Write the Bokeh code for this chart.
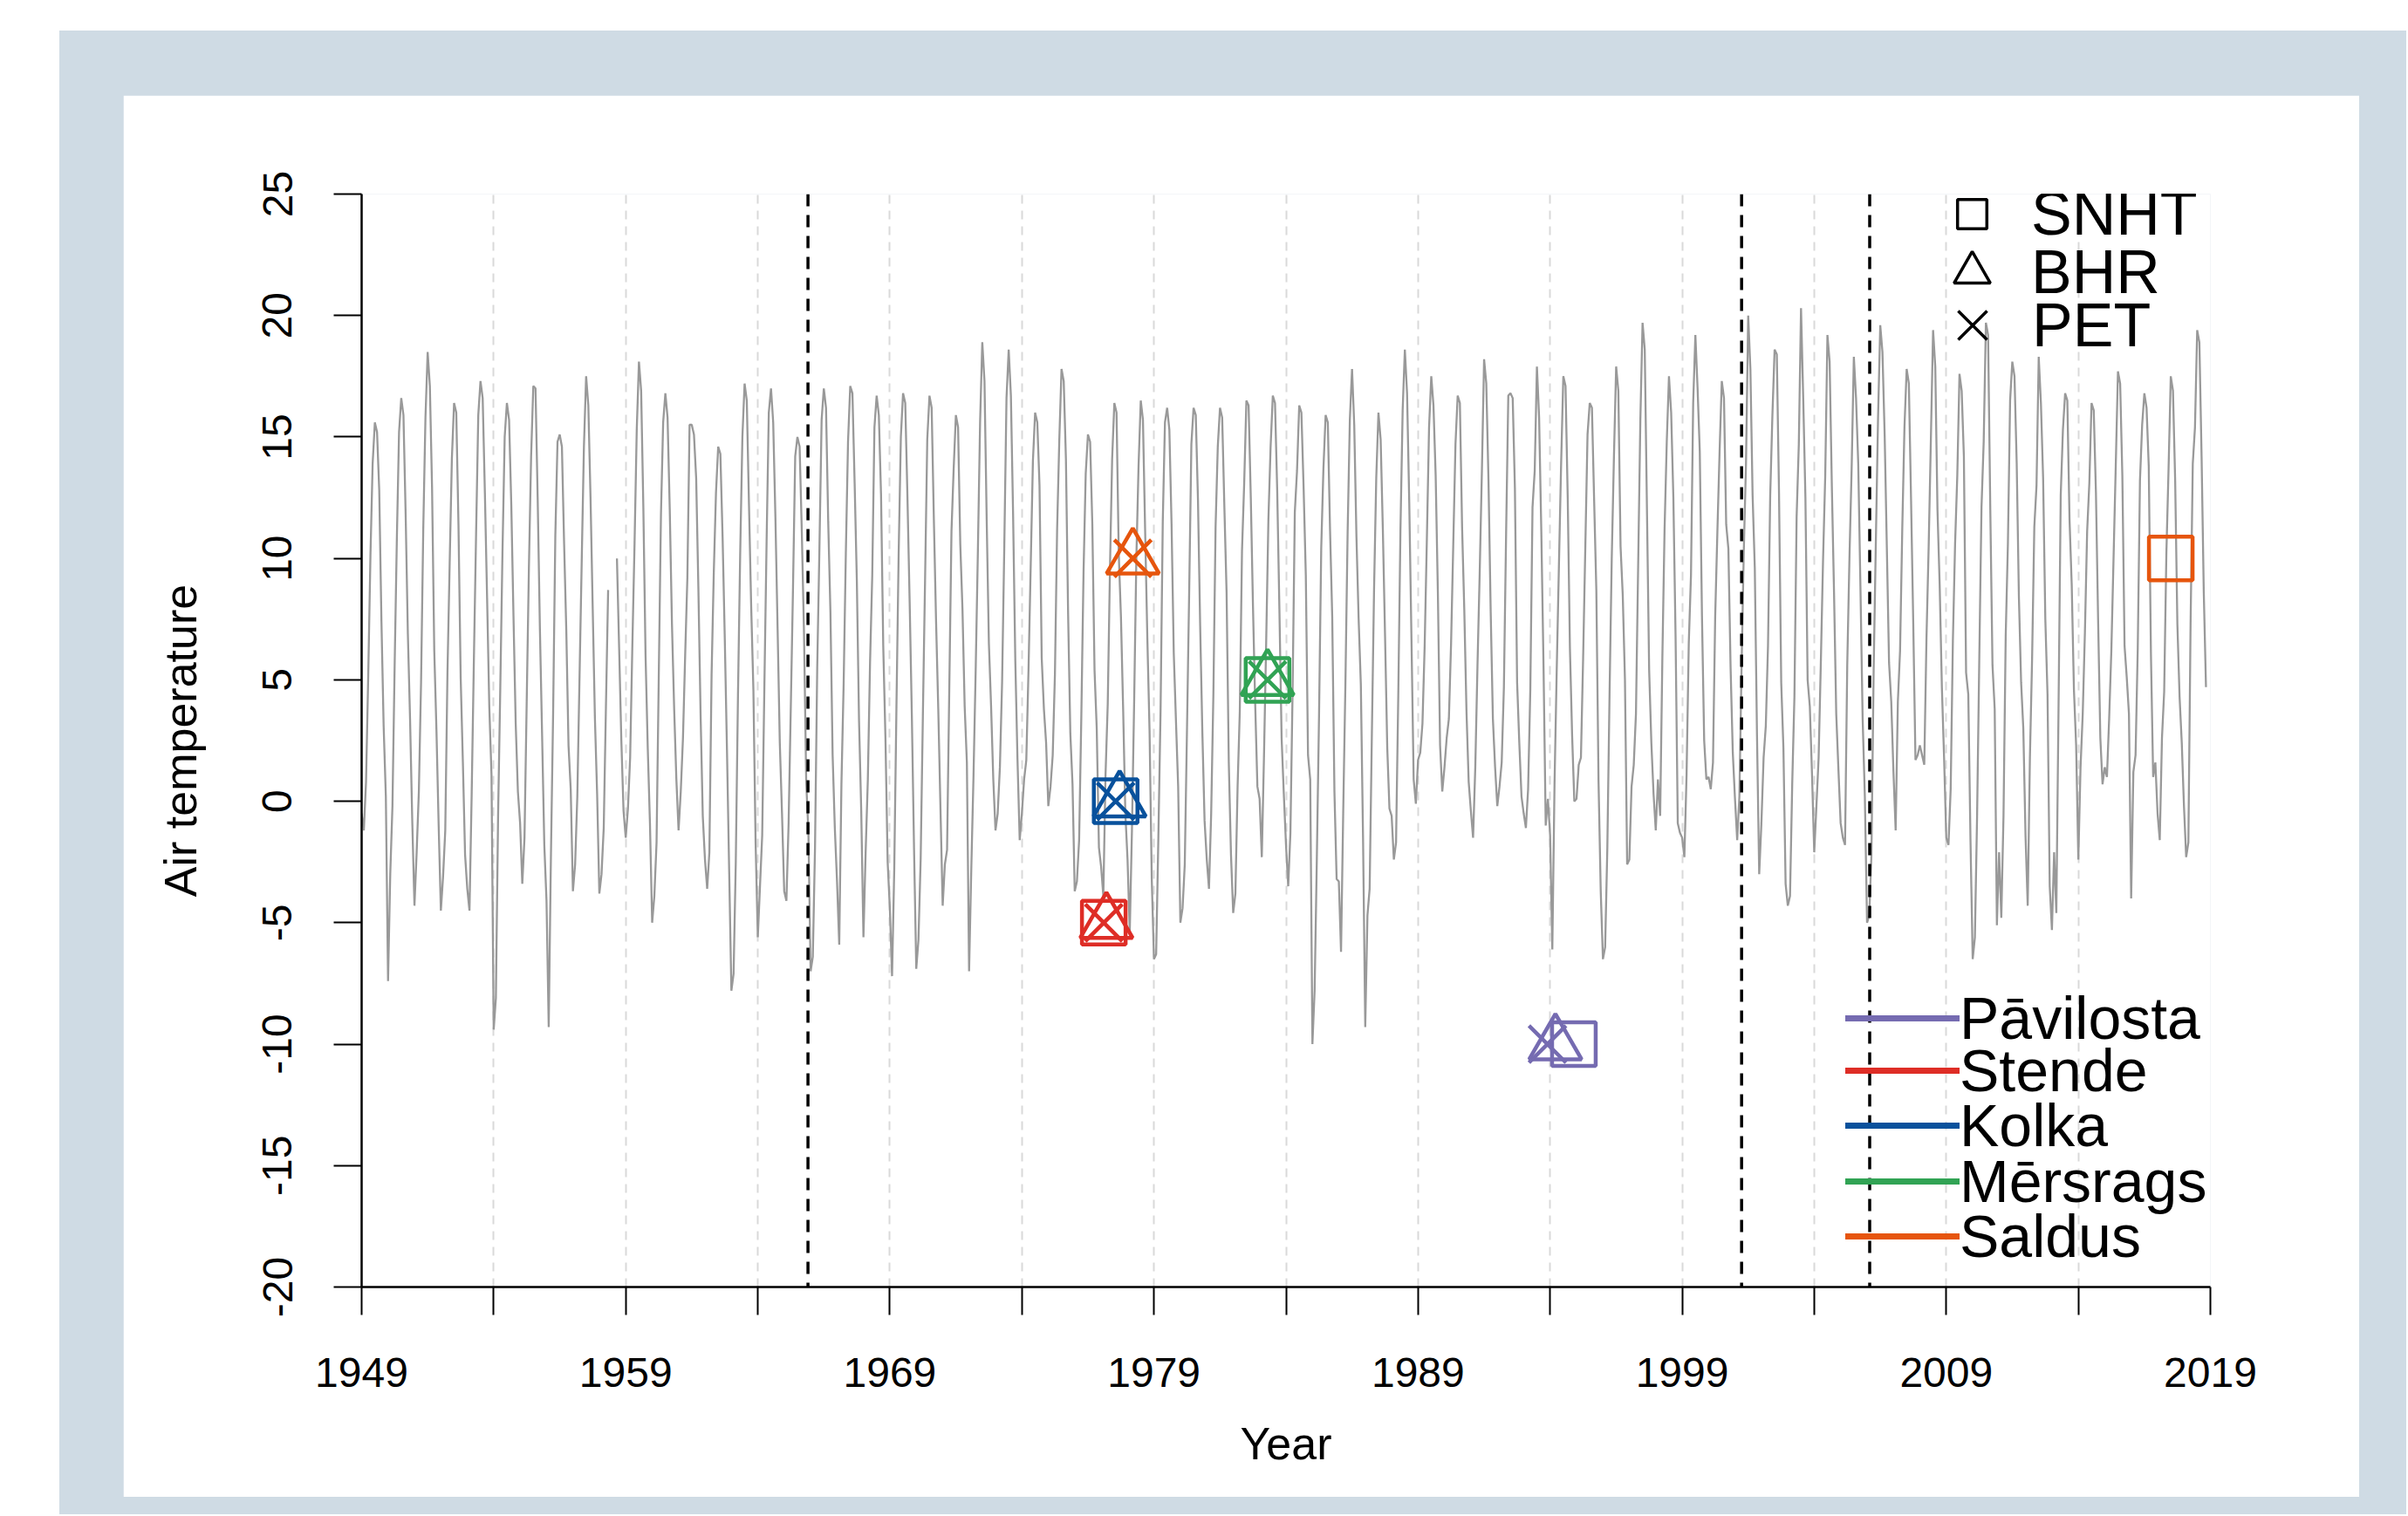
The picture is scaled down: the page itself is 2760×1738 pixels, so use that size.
import math
from bokeh.plotting import figure
from bokeh.models import ColumnDataSource, FixedTicker, Legend, LegendItem, Range1d, Span
from bokeh.layouts import column
from bokeh.embed import file_html
from bokeh.resources import INLINE

nan = float("nan")

# ---------------- data (monthly air temperature) ----------------
start_year = 1949

temp_1949_1958 = [
    -0.5, -1.2, 0.8, 5.2, 10.1, 13.9, 15.6, 15.2, 12.8, 7.4, 3.1, 0.2,
    -7.4, -3.0, -0.2, 5.6, 10.8, 15.2, 16.6, 15.9, 11.8, 6.9, 3.4, -0.8,
    -4.3, -2.1, 0.4, 4.9, 11.2, 15.8, 18.5, 17.1, 12.9, 6.2, 2.9, -1.0,
    -4.5, -3.1, -1.2, 5.3, 9.8, 14.1, 16.4, 16.0, 11.4, 5.1, 1.6, -2.2,
    -3.6, -4.5, 0.3, 5.8, 11.0, 15.9, 17.3, 16.6, 12.7, 8.4, 3.9, 1.1,
    -9.4, -8.1, -0.6, 4.7, 10.3, 15.0, 16.4, 15.7, 12.2, 7.6, 3.2, 0.4,
    -0.9, -3.4, -1.5, 4.1, 9.6, 14.2, 17.1, 17.0, 12.4, 7.1, 2.7, -1.8,
    -4.1, -9.3, -2.3, 3.6, 10.9, 14.8, 15.1, 14.6, 10.6, 7.0, 2.3, 0.5,
    -3.7, -2.6, 0.2, 5.1, 9.9, 14.6, 17.5, 16.3, 12.5, 7.9, 3.4, 0.3,
    -3.8, -3.0, -1.1, 3.9, 8.7, nan, nan, nan, 10.0, 6.3, 2.5, -0.4,
]
temp_1959_1968 = [
    -1.5, -0.3, 1.8, 6.4, 10.6, 15.3, 18.1, 16.9, 12.1, 6.0, 2.2, -0.9,
    -5.0, -3.9, -1.7, 5.1, 11.8, 15.6, 16.8, 15.8, 12.0, 7.3, 3.8, 0.9,
    -1.2, 0.4, 2.6, 6.0, 9.2, 15.5, 15.5, 15.1, 13.3, 8.8, 3.6, -0.6,
    -2.4, -3.6, -2.1, 5.2, 9.4, 12.7, 14.6, 14.3, 10.9, 6.7, 2.1, -2.9,
    -7.8, -7.1, -2.5, 4.4, 10.2, 15.0, 17.2, 16.5, 12.2, 8.0, 4.6, -1.7,
    -5.6, -3.5, -1.4, 4.8, 10.7, 16.0, 17.0, 15.6, 11.7, 7.1, 2.4, -0.5,
    -3.7, -4.1, -0.9, 3.9, 8.8, 14.2, 15.0, 14.6, 11.1, 6.9, 0.8, -1.3,
    -7.0, -6.4, -1.9, 5.5, 10.4, 15.7, 17.0, 16.2, 11.5, 7.8, 1.9, -1.1,
    -3.3, -5.9, 0.7, 4.8, 10.2, 14.8, 17.1, 16.8, 13.1, 9.1, 3.3, -0.4,
    -5.6, -2.1, 0.9, 5.7, 9.3, 15.4, 16.7, 15.9, 12.6, 6.4, 2.6, -2.5,
]
temp_1969_1978 = [
    -4.4, -7.2, -2.8, 3.9, 10.2, 15.0, 16.8, 16.4, 12.5, 8.2, 3.5, -2.0,
    -6.9, -5.7, -2.4, 3.5, 9.1, 14.9, 16.7, 16.2, 11.6, 7.4, 3.8, -0.3,
    -4.3, -2.6, -2.0, 4.6, 11.1, 13.7, 15.9, 15.4, 10.6, 7.9, 3.9, 1.6,
    -7.0, -2.8, 1.0, 5.4, 10.3, 15.6, 18.9, 17.3, 11.6, 6.5, 3.9, 0.9,
    -1.2, -0.5, 1.4, 4.9, 10.5, 16.6, 18.6, 16.7, 11.8, 5.8, 1.7, -1.6,
    -0.5, 0.9, 1.7, 5.4, 9.7, 14.0, 16.0, 15.6, 13.0, 5.9, 3.8, 2.4,
    -0.2, 0.6, 1.9, 5.2, 11.2, 14.9, 17.8, 17.3, 14.1, 7.7, 2.8, 0.7,
    -3.7, -3.3, -1.6, 3.5, 9.4, 13.5, 15.1, 14.8, 11.4, 5.4, 3.0, -1.9,
    -2.7, -3.9, 1.1, 4.0, 9.5, 14.1, 16.4, 16.0, 10.2, 7.6, 3.8, -0.5,
    -2.4, -5.4, -1.2, 4.1, 10.0, 13.8, 16.5, 15.7, 11.1, 6.7, 2.9, -3.2,
]
temp_1979_1988 = [
    -6.5, -6.3, -1.5, 3.7, 11.5, 15.6, 16.2, 15.3, 11.4, 6.1, 3.3, 0.6,
    -5.0, -4.4, -2.6, 2.9, 8.6, 14.7, 16.2, 15.9, 12.4, 7.2, 2.8, -0.8,
    -2.4, -3.6, -0.5, 4.4, 11.3, 14.6, 16.2, 15.8, 12.1, 8.6, 1.6, -2.2,
    -4.6, -3.8, 0.6, 3.7, 10.3, 13.1, 16.5, 16.3, 12.5, 8.0, 4.0, 0.6,
    0.1, -2.3, 1.9, 6.6, 11.6, 14.6, 16.7, 16.4, 12.8, 7.9, 2.6, 0.3,
    -1.8, -3.5, -1.3, 4.6, 11.9, 13.6, 16.3, 16.0, 12.9, 9.3, 1.9, 0.9,
    -10.0, -7.8, -2.4, 3.5, 10.4, 13.7, 15.9, 15.6, 11.2, 7.6, 0.4, -3.2,
    -3.3, -6.2, -0.4, 4.9, 11.1, 15.7, 17.8, 15.5, 10.9, 7.5, 4.8, -1.5,
    -9.3, -4.7, -3.6, 2.7, 8.7, 13.3, 16.0, 14.9, 11.2, 6.8, 2.2, -0.3,
    -0.6, -2.4, -1.7, 4.3, 11.2, 16.1, 18.6, 16.8, 12.3, 6.7, 0.9, -0.1,
]
temp_1989_1998 = [
    1.7, 2.0, 3.2, 6.4, 10.8, 15.4, 17.5, 16.3, 13.4, 8.6, 2.3, 0.4,
    1.4, 2.6, 3.4, 6.5, 10.6, 14.7, 16.7, 16.4, 11.3, 7.9, 3.7, 0.8,
    -0.4, -1.5, 1.4, 5.6, 9.4, 13.6, 18.2, 17.2, 13.2, 7.8, 3.4, 1.4,
    -0.2, 0.6, 1.6, 4.7, 11.0, 16.7, 16.8, 16.6, 12.9, 4.9, 2.4, 0.2,
    -0.5, -1.1, 0.5, 4.6, 12.1, 13.6, 17.9, 15.8, 11.1, 5.6, -1.0, 0.1,
    -1.4, -6.1, 0.7, 5.4, 9.7, 13.9, 17.5, 17.1, 12.5, 6.3, 2.7, 0.0,
    0.1, 1.5, 1.8, 5.9, 10.5, 15.1, 16.4, 16.2, 12.4, 8.7, 0.8, -3.7,
    -6.5, -6.0, -1.9, 4.4, 10.0, 14.2, 17.9, 16.9, 10.5, 8.5, 5.0, -2.6,
    -2.4, 0.6, 1.5, 3.6, 9.7, 15.7, 19.7, 18.6, 12.0, 5.4, 2.4, 0.3,
    -1.2, 0.9, -0.6, 5.9, 11.2, 14.8, 17.5, 16.0, 12.5, 6.8, -0.9, -1.3,
]
temp_1999_2008 = [
    -1.5, -2.3, 1.1, 6.5, 9.3, 16.4, 19.2, 17.0, 14.4, 7.6, 2.5, 0.9,
    1.0, 0.5, 1.6, 7.6, 11.1, 14.4, 17.3, 16.6, 11.4, 10.4, 5.5, 2.0,
    0.1, -1.6, 0.2, 5.6, 10.3, 13.9, 20.0, 17.8, 12.6, 9.6, 2.7, -3.0,
    -0.9, 1.8, 3.1, 6.4, 12.6, 15.9, 18.6, 18.4, 12.7, 4.9, 2.2, -3.4,
    -4.3, -3.9, 0.7, 4.3, 11.7, 14.7, 20.3, 16.6, 12.5, 5.0, 3.9, 1.1,
    -2.1, -0.2, 1.8, 5.7, 9.9, 13.4, 19.2, 18.1, 13.0, 8.6, 3.6, 1.3,
    -0.9, -1.5, -1.8, 5.6, 10.0, 13.7, 18.3, 16.6, 13.9, 8.8, 3.4, 0.2,
    -5.0, -4.7, -2.2, 5.4, 10.7, 15.8, 19.6, 18.5, 15.1, 10.4, 5.7, 4.1,
    1.2, -1.2, 4.1, 6.2, 11.2, 15.4, 17.8, 17.2, 12.4, 7.3, 1.7, 1.9,
    2.3, 1.9, 1.5, 6.7, 10.5, 14.9, 19.4, 17.9, 12.0, 8.9, 4.7, 1.8,
]
temp_2009_2018 = [
    -1.5, -1.8, 0.5, 6.6, 10.6, 13.4, 17.6, 16.9, 14.2, 5.3, 4.4, -1.6,
    -6.5, -5.6, -0.6, 5.9, 12.1, 14.8, 19.7, 19.2, 12.0, 5.6, 3.8, -5.1,
    -2.1, -4.8, -0.6, 6.8, 10.6, 16.5, 18.1, 17.5, 13.9, 8.4, 4.9, 3.0,
    -1.4, -4.3, 1.8, 5.9, 11.3, 13.0, 18.3, 16.4, 13.3, 7.5, 4.4, -3.5,
    -5.3, -2.1, -4.6, 3.8, 12.6, 15.3, 16.8, 16.5, 11.6, 8.9, 4.6, 2.3,
    -2.4, 1.4, 3.6, 7.0, 11.1, 13.1, 16.4, 16.1, 12.7, 7.4, 2.6, 0.7,
    1.4, 1.0, 3.4, 6.2, 10.0, 13.8, 17.7, 17.2, 13.4, 6.4, 5.1, 3.6,
    -4.0, 1.2, 1.9, 6.3, 13.2, 15.5, 16.8, 16.2, 13.8, 6.0, 1.0, 1.6,
    -0.5, -1.6, 2.6, 4.5, 10.2, 13.7, 17.5, 16.9, 13.2, 7.3, 4.3, 2.4,
    -0.2, -2.3, -1.7, 7.3, 13.9, 15.4, 19.4, 18.9, 14.2, 8.6, 4.7,
]

stations = ["Pāvilosta", "Stende", "Kolka", "Mērsrags", "Saldus"]
station_colors = ["#756bb1", "#de2d26", "#08519c", "#31a354", "#e6550d"]
station_levels = [-10, -5, 0, 5, 10]
snht_years = [1994.9, 1977.1, 1977.55, 1983.3, 2017.5]
bhr_years = [1994.2, 1977.2, 1977.7, 1983.3, 1978.2]
pet_years = [1993.9, 1977.1, 1977.55, 1983.3, 1978.2]
methods = ["SNHT", "BHR", "PET"]
break_years = [1965.9, 2001.25, 2006.1]

x_ticks = [1949, 1954, 1959, 1964, 1969, 1974, 1979, 1984, 1989, 1994, 1999, 2004, 2009, 2014, 2019]
x_tick_labels = ["1949", "", "1959", "", "1969", "", "1979", "", "1989", "", "1999", "", "2009", "", "2019"]
y_ticks = [-20, -15, -10, -5, 0, 5, 10, 15, 20, 25]
y_tick_labels = ["-20", "-15", "-10", "-5", "0", "5", "10", "15", "20", "25"]

# ---------------- build ----------------
monthly_temp = (temp_1949_1958 + temp_1959_1968 + temp_1969_1978 + temp_1979_1988
                + temp_1989_1998 + temp_1999_2008 + temp_2009_2018)
months_time = [start_year + i / 12 for i in range(len(monthly_temp))]

FONT = "Liberation Sans"

p = figure(width=2563, height=1607,
           x_range=Range1d(1949, 2019), y_range=Range1d(-20, 25),
           output_backend="svg", toolbar_location=None,
           min_border_left=273, min_border_right=171,
           min_border_top=113, min_border_bottom=241,
           background_fill_color="white", border_fill_color="white")
p.outline_line_color = None
p.margin = (74, 54, 20, 73)

# axes
p.xaxis.ticker = FixedTicker(ticks=x_ticks)
p.xaxis.major_label_overrides = {t: l for t, l in zip(x_ticks, x_tick_labels)}
p.yaxis.ticker = FixedTicker(ticks=y_ticks)
p.yaxis.major_label_overrides = {t: l for t, l in zip(y_ticks, y_tick_labels)}
p.yaxis.major_label_orientation = "parallel"
for ax in (p.xaxis[0], p.yaxis[0]):
    ax.axis_line_color = "black"
    ax.axis_line_width = 2.5
    ax.major_tick_line_color = "black"
    ax.major_tick_line_width = 2
    ax.major_tick_out = 32
    ax.major_tick_in = 0
    ax.minor_tick_line_color = None
    ax.major_label_text_font = FONT
    ax.major_label_text_font_size = "48px"
    ax.major_label_text_color = "black"
    ax.axis_label_text_font = FONT
    ax.axis_label_text_font_size = "52px"
    ax.axis_label_text_font_style = "normal"
    ax.axis_label_text_color = "black"
p.xaxis.axis_label = "Year"
p.yaxis.axis_label = "Air temperature"
p.xaxis.major_label_standoff = 49
p.xaxis.axis_label_standoff = 33
p.yaxis.major_label_standoff = 48
p.yaxis.axis_label_standoff = 63

# grid
p.xgrid.ticker = FixedTicker(ticks=x_ticks)
p.xgrid.grid_line_color = "#d9d9d9"
p.xgrid.grid_line_width = 2
p.xgrid.grid_line_dash = "10 8"
p.ygrid.grid_line_color = None

# series
p.line(months_time, monthly_temp, line_color="#999999", line_width=2.3)

# break lines
for yr in break_years:
    p.add_layout(Span(location=yr, dimension="height", line_color="black",
                      line_width=3.5, line_dash="14 10"))

# change-point markers
src = ColumnDataSource(dict(station=stations, level=station_levels, color=station_colors,
                            snht=snht_years, bhr=bhr_years, pet=pet_years))
p.scatter("snht", "level", source=src, marker="square", size=50, fill_color=None,
          line_color="color", line_width=4.5)
p.scatter("bhr", "level", source=src, marker="triangle", size=60, fill_color=None,
          line_color="color", line_width=4.5)
p.scatter("pet", "level", source=src, marker="x", size=60,
          line_color="color", line_width=4.5)

# legends (proxy renderers are hidden; they only lend their style to the legend)
def legend(items, loc, gw, gh, standoff, font_size="70px"):
    lg = Legend(items=items, location=loc, orientation="vertical",
                glyph_width=gw, glyph_height=gh, label_standoff=standoff,
                spacing=0, padding=0, margin=0,
                border_line_color=None, background_fill_alpha=0,
                label_text_font=FONT, label_text_font_size=font_size,
                label_text_color="black", label_height=10)
    p.add_layout(lg, "center")
    return lg

sq = p.scatter(snht_years, station_levels, marker="square", fill_color=None,
               line_color="black", line_width=3.5, visible=False)
tr = p.scatter(bhr_years, station_levels, marker="triangle", fill_color=None,
               line_color="black", line_width=3.5, visible=False)
xx = p.scatter(pet_years, station_levels, marker="x",
               line_color="black", line_width=3.5, visible=False)
legend([LegendItem(label=methods[0], renderers=[sq])], (1804, 1181), 84, 98, 26)
legend([LegendItem(label=methods[1], renderers=[tr])], (1794, 1111), 104, 104, 16)
legend([LegendItem(label=methods[2], renderers=[xx])], (1788, 1044), 117, 117, 10)

station_legend_offsets = [269, 209, 146, 82, 19]
for i, (name, col) in enumerate(zip(stations, station_colors)):
    r = p.line(x=[snht_years[i]], y=[station_levels[i]], line_color=col,
               line_width=7, line_cap="round", visible=False)
    legend([LegendItem(label=name, renderers=[r])], (1701, station_legend_offsets[i]),
           131, 40, 0, font_size="68px")

layout = column(p, styles={"background-color": "#cfdbe4"}, margin=(35, 0, 0, 68))

with open("out.html", "w", encoding="utf-8") as f:
    f.write(file_html(layout, INLINE))
